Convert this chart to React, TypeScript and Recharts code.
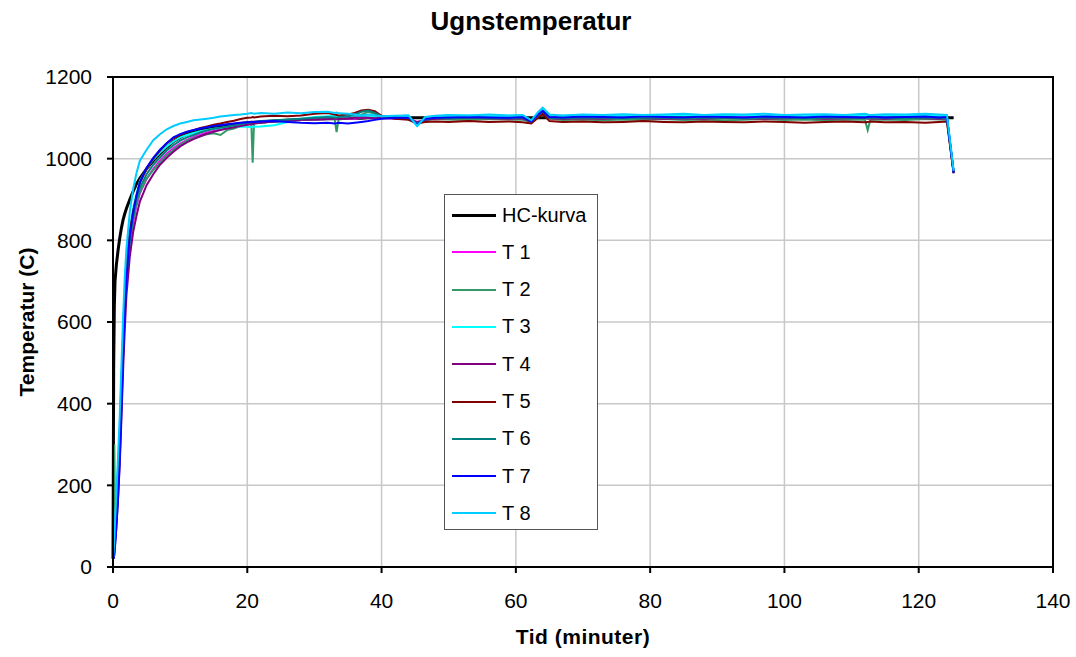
import { CartesianGrid, Line, LineChart, ReferenceArea, XAxis, YAxis } from 'recharts';

// minutes
const times = [
	0, 0.1, 0.2, 0.3, 0.5, 0.75, 1, 1.25, 1.5, 1.75,
	2, 2.5, 3, 3.5, 4, 5, 6, 7, 8, 9,
	10, 11, 12, 13, 14, 15, 16, 17, 18, 19,
	20, 20.6, 20.8, 21, 22, 24, 26, 28, 30, 32,
	33, 33.3, 33.6, 35, 36, 37, 38, 39, 40, 42,
	44, 45.3, 46.5, 48, 50, 53, 56, 59, 61, 62.3,
	63.3, 64, 65, 67, 70, 73, 76, 79, 82, 85,
	88, 91, 94, 97, 100, 103, 106, 109, 112, 112.4,
	112.8, 115, 118, 121, 123, 124.2, 125.2,
];

const hcKurva = [
	20, 490, 640, 700, 740, 775, 805, 830, 850, 865,
	878, 900, 920, 938, 952, 975, 995, 1012, 1028, 1042,
	1052, 1060, 1066, 1070, 1074, 1077, 1080, 1082, 1084, 1086,
	1088, 1089, 1089, 1089, 1090, 1092, 1094, 1096, 1097, 1098,
	1098, 1098, 1098, 1099, 1099, 1099, 1100, 1100, 1100, 1100,
	1100, 1100, 1100, 1100, 1100, 1100, 1100, 1100, 1100, 1100,
	1100, 1100, 1100, 1100, 1100, 1100, 1100, 1100, 1100, 1100,
	1100, 1100, 1100, 1100, 1100, 1100, 1100, 1100, 1100, 1100,
	1100, 1100, 1100, 1100, 1100, 1100, 1100,
];

const t1 = [
	20, 25, 40, 65, 120, 190, 280, 400, 520, 620,
	700, 790, 845, 885, 915, 950, 975, 995, 1012, 1026,
	1037, 1046, 1053, 1059, 1064, 1068, 1072, 1075, 1078, 1081,
	1084, 1085, 1086, 1087, 1089, 1092, 1094, 1095, 1096, 1097,
	1098, 1097, 1098, 1099, 1098, 1100, 1101, 1099, 1100, 1098,
	1099, 1090, 1095, 1099, 1100, 1101, 1099, 1100, 1101, 1090,
	1105, 1115, 1101, 1100, 1099, 1101, 1100, 1102, 1100, 1099,
	1101, 1100, 1102, 1100, 1101, 1099, 1100, 1102, 1100, 1100,
	1101, 1100, 1099, 1101, 1100, 1100, 968,
];

const t2 = [
	30, 160, 300, 120, 150, 215, 290, 410, 530, 630,
	705, 795, 850, 890, 918, 952, 972, 990, 1008, 1022,
	1034, 1044, 1050, 1055, 1060, 1062, 1058, 1070, 1074, 1080,
	1084, 1086, 990, 1086, 1088, 1091, 1093, 1095, 1096, 1097,
	1098, 1065, 1097, 1100, 1102, 1108, 1115, 1110, 1100, 1099,
	1097, 1088, 1094, 1097, 1096, 1095, 1097, 1096, 1095, 1090,
	1104, 1114, 1098, 1095, 1096, 1094, 1096, 1095, 1097, 1095,
	1096, 1094, 1095, 1097, 1095, 1096, 1094, 1096, 1095, 1070,
	1095, 1096, 1095, 1097, 1096, 1095, 966,
];

const t3 = [
	20, 35, 60, 95, 160, 240, 330, 450, 570, 670,
	745, 830, 880, 915, 945, 975, 998, 1015, 1030, 1042,
	1052, 1058, 1063, 1067, 1070, 1073, 1075, 1077, 1078, 1079,
	1078, 1077, 1078, 1078, 1079, 1082, 1090, 1098, 1102, 1104,
	1105, 1104, 1103, 1102, 1101, 1103, 1104, 1102, 1101, 1103,
	1104, 1080, 1100, 1104, 1105, 1106, 1104, 1105, 1106, 1093,
	1112, 1122, 1106, 1105, 1107, 1105, 1106, 1104, 1106, 1107,
	1105, 1106, 1107, 1105, 1106, 1104, 1106, 1107, 1105, 1106,
	1104, 1106, 1107, 1105, 1106, 1105, 968,
];

const t4 = [
	20, 22, 35, 55, 100, 165, 250, 360, 480, 580,
	665, 760, 820, 860, 895, 935, 962, 985, 1002, 1017,
	1030, 1040, 1048, 1055, 1061, 1066, 1070, 1074, 1077, 1080,
	1083, 1084, 1085, 1086, 1088, 1091, 1093, 1095, 1096, 1097,
	1098, 1098, 1097, 1099, 1100, 1101, 1100, 1099, 1100, 1099,
	1098, 1089, 1095, 1098, 1099, 1100, 1099, 1098, 1099, 1090,
	1103, 1112, 1099, 1098, 1099, 1098, 1100, 1099, 1098, 1099,
	1098, 1100, 1099, 1098, 1099, 1100, 1098, 1099, 1100, 1098,
	1099, 1098, 1100, 1099, 1098, 1099, 966,
];

const t5 = [
	20, 30, 50, 85, 150, 225, 320, 440, 560, 660,
	735, 820, 872, 908, 940, 975, 1000, 1020, 1038, 1050,
	1058, 1065, 1070, 1075, 1079, 1083, 1086, 1090, 1093, 1097,
	1100, 1101, 1102, 1101, 1103, 1105, 1104, 1106, 1110, 1112,
	1108, 1107, 1106, 1108, 1112, 1118, 1120, 1116, 1105, 1098,
	1095, 1086, 1090, 1091, 1090, 1092, 1090, 1091, 1089, 1086,
	1100, 1110, 1092, 1090, 1091, 1089, 1090, 1092, 1090, 1089,
	1091, 1090, 1089, 1091, 1090, 1088, 1090, 1091, 1089, 1090,
	1091, 1089, 1090, 1088, 1090, 1091, 964,
];

const t6 = [
	20, 28, 45, 75, 135, 205, 295, 415, 535, 635,
	715, 805, 858, 898, 928, 962, 985, 1003, 1020, 1033,
	1044, 1052, 1058, 1064, 1069, 1073, 1076, 1079, 1082, 1085,
	1088, 1089, 1090, 1090, 1092, 1094, 1096, 1098, 1100, 1102,
	1101, 1100, 1102, 1104, 1108, 1115, 1118, 1112, 1104, 1102,
	1100, 1086, 1097, 1100, 1099, 1101, 1100, 1099, 1101, 1091,
	1106, 1116, 1100, 1099, 1101, 1100, 1099, 1100, 1101, 1099,
	1100, 1101, 1099, 1100, 1101, 1099, 1100, 1101, 1100, 1099,
	1101, 1100, 1099, 1101, 1100, 1099, 967,
];

const t7 = [
	20, 22, 30, 50, 95, 170, 260, 380, 510, 620,
	710, 810, 868, 910, 942, 978, 1002, 1022, 1038, 1052,
	1060, 1066, 1070, 1074, 1077, 1080, 1082, 1084, 1086, 1088,
	1089, 1090, 1090, 1090, 1091, 1092, 1090, 1088, 1087, 1088,
	1086, 1087, 1088, 1086, 1088, 1090, 1092, 1095, 1098, 1100,
	1101, 1084, 1098, 1100, 1101, 1102, 1101, 1100, 1102, 1091,
	1108, 1117, 1102, 1101, 1103, 1102, 1101, 1104, 1102, 1101,
	1103, 1102, 1101, 1103, 1102, 1101, 1103, 1102, 1101, 1102,
	1103, 1101, 1102, 1103, 1101, 1102, 965,
];

const t8 = [
	20, 40, 70, 110, 180, 270, 370, 490, 610, 710,
	780, 870, 925, 965, 995, 1022, 1045, 1060, 1072, 1080,
	1086, 1090, 1094, 1096, 1098, 1100, 1103, 1105, 1107, 1108,
	1110, 1112, 1111, 1110, 1112, 1110, 1113, 1111, 1114, 1115,
	1112, 1113, 1111, 1110, 1108, 1106, 1108, 1106, 1104, 1105,
	1106, 1080, 1102, 1105, 1107, 1106, 1108, 1106, 1107, 1094,
	1114, 1125, 1108, 1106, 1108, 1107, 1109, 1107, 1108, 1110,
	1107, 1109, 1108, 1110, 1107, 1108, 1109, 1107, 1110, 1108,
	1107, 1109, 1108, 1110, 1108, 1107, 970,
];

const seriesKeys = ['hc', 't1', 't2', 't3', 't4', 't5', 't6', 't7', 't8'];
const seriesNames = ['HC-kurva', 'T 1', 'T 2', 'T 3', 'T 4', 'T 5', 'T 6', 'T 7', 'T 8'];
const seriesColors = [
	'#000000', '#FF00FF', '#339966', '#00FFFF', '#800080',
	'#800000', '#008080', '#0000FF', '#00CCFF',
];
const seriesValues = [hcKurva, t1, t2, t3, t4, t5, t6, t7, t8];

const xTicks = [0, 20, 40, 60, 80, 100, 120, 140];
const yTicks = [0, 200, 400, 600, 800, 1000, 1200];

const data = times.map((t, i) => {
	const row: Record<string, number> = { t };
	seriesKeys.forEach((k, j) => {
		row[k] = seriesValues[j][i];
	});
	return row;
});

const font = '"Liberation Sans", Arial, sans-serif';

const Legendbox = () => (
	<div
		style={{
			position: 'absolute',
			left: 444,
			top: 194,
			width: 154,
			height: 336,
			border: '1.5px solid #555',
			background: '#fff',
			boxSizing: 'border-box',
		}}
	>
		{seriesNames.map((name, i) => (
			<div
				key={name}
				style={{
					position: 'absolute',
					left: 0,
					top: 20 + i * 37.3 - 14,
					height: 28,
					display: 'flex',
					alignItems: 'center',
				}}
			>
				<div
					style={{
						marginLeft: 7,
						width: 44,
						height: i === 0 ? 3 : 2,
						background: seriesColors[i],
					}}
				/>
				<span style={{ marginLeft: 6, fontSize: 20, color: '#000' }}>{name}</span>
			</div>
		))}
	</div>
);

export default function App() {
	return (
		<div
			style={{
				position: 'absolute',
				left: 0,
				top: 0,
				width: 1076,
				height: 657,
				background: '#fff',
				fontFamily: font,
			}}
		>
			<div
				style={{
					position: 'absolute',
					left: 0,
					width: 1062,
					top: 6,
					textAlign: 'center',
					fontSize: 26,
					fontWeight: 'bold',
				}}
			>
				Ugnstemperatur
			</div>
			<LineChart
				width={1076}
				height={657}
				data={data}
				margin={{ top: 77, right: 23, bottom: 0, left: 0 }}
			>
				<CartesianGrid stroke="#c8c8c8" strokeWidth={1.5} />
				<XAxis
					dataKey="t"
					type="number"
					domain={[0, 140]}
					ticks={xTicks}
					height={90}
					tickSize={6}
					tickMargin={20}
					stroke="#000"
					strokeWidth={2}
					tick={{ fill: '#000', fontSize: 21, fontFamily: font }}
				/>
				<YAxis
					type="number"
					domain={[0, 1200]}
					ticks={yTicks}
					width={113}
					tickSize={6}
					tickMargin={15}
					stroke="#000"
					strokeWidth={2}
					tick={{ fill: '#000', fontSize: 21, fontFamily: font }}
				/>
				<ReferenceArea
					x1={0}
					x2={140}
					y1={0}
					y2={1200}
					fill="none"
					stroke="#000"
					strokeWidth={2}
					strokeOpacity={1}
				/>
				{seriesKeys.map((k, i) => (
					<Line
						key={k}
						dataKey={k}
						type="linear"
						stroke={seriesColors[i]}
						strokeWidth={i === 0 ? 3 : 2}
						dot={false}
						isAnimationActive={false}
					/>
				))}
			</LineChart>
			<div
				style={{
					position: 'absolute',
					left: 113,
					width: 940,
					top: 625,
					textAlign: 'center',
					fontSize: 21,
					fontWeight: 'bold',
					letterSpacing: 0.5,
				}}
			>
				Tid (minuter)
			</div>
			<div
				style={{
					position: 'absolute',
					left: 27,
					top: 322,
					transform: 'translate(-50%, -50%) rotate(-90deg)',
					whiteSpace: 'nowrap',
					fontSize: 21,
					fontWeight: 'bold',
				}}
			>
				Temperatur (C)
			</div>
			<Legendbox />
		</div>
	);
}
